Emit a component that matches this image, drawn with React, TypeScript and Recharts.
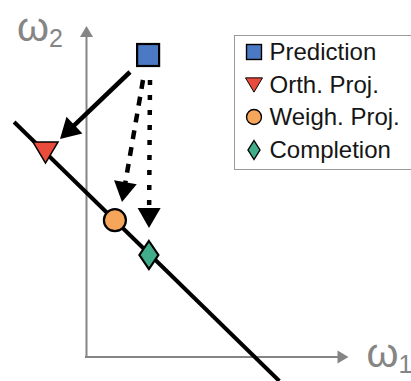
import React from "react";
import {
  ScatterChart,
  Scatter,
  XAxis,
  YAxis,
  ReferenceLine,
  ReferenceDot,
  Legend,
} from "recharts";

// weight space, origin at the axis corner
const X_DOMAIN = [-2.1625, 8.1125];
const Y_DOMAIN = [-0.6, 8.925];
const PX = 40; // pixels per unit on both axes

const seriesNames = ["Prediction", "Orth. Proj.", "Weigh. Proj.", "Completion"];
const seriesX = [1.54, -1.025, 0.71, 1.56];
const seriesY = [7.55, 5.11, 3.42, 2.55];
const seriesColors = ["#4b79c3", "#e94b3c", "#f5a65b", "#41ad8b"];

const constraintX = [-1.81, 4.82];
const constraintY = [5.875, -0.6];

const arrowStartX = [1.0875, 1.4125, 1.5875];
const arrowStartY = [7.125, 6.925, 6.925];
const arrowEndX = [-0.6625, 0.8875, 1.5625];
const arrowEndY = [5.45, 3.875, 3.225];
const arrowDash = ["", "9 8", "5 10"];

const axisEndX = 6.55;
const axisEndY = 8.275;

const FONT = "'Liberation Sans', Arial, sans-serif";
const AXIS_GRAY = "#858585";

function headPoints(cx: number, cy: number, angle: number, len: number, w: number) {
  const c = Math.cos(angle);
  const s = Math.sin(angle);
  const pts = [
    [0, 0],
    [-len, -w / 2],
    [-len, w / 2],
  ];
  return pts.map(([px, py]) => `${cx + px * c - py * s},${cy + px * s + py * c}`).join(" ");
}

function markerShape(name: string, color: string, cx: number, cy: number, small: boolean) {
  const k = small ? 0.68 : 1;
  const sw = small ? 1.4 : 2.2;
  if (name === "Prediction") {
    const h = 11 * k;
    return <rect x={cx - h} y={cy - h} width={h * 2} height={h * 2} fill={color} stroke="#000" strokeWidth={sw} />;
  }
  if (name === "Orth. Proj.") {
    const hw = 12.5 * k;
    const hh = 10.5 * k;
    return (
      <polygon
        points={`${cx - hw},${cy - hh} ${cx + hw},${cy - hh} ${cx},${cy + hh}`}
        fill={color}
        stroke="#000"
        strokeWidth={sw * 0.7}
        strokeLinejoin="miter"
      />
    );
  }
  if (name === "Weigh. Proj.") {
    return <circle cx={cx} cy={cy} r={11 * k} fill={color} stroke="#000" strokeWidth={sw} />;
  }
  const hw = small ? 6 : 9.5;
  const hh = small ? 9.5 : 14;
  return (
    <polygon
      points={`${cx},${cy - hh} ${cx + hw},${cy} ${cx},${cy + hh} ${cx - hw},${cy}`}
      fill={color}
      stroke="#000"
      strokeWidth={sw}
    />
  );
}

function LegendBox({ payload }: any) {
  const items = [...(payload || [])].sort(
    (a: any, b: any) => seriesNames.indexOf(a.value) - seriesNames.indexOf(b.value)
  );
  return (
    <div
      style={{
        boxSizing: "border-box",
        width: 200,
        height: 135,
        border: "1.5px solid #9a9a9a",
        background: "#fff",
        padding: "0 0 0 9.5px",
        fontFamily: FONT,
        fontSize: 24,
        color: "#161616",
      }}
    >
      {items.map((entry: any) => (
        <div key={entry.value} style={{ display: "flex", alignItems: "center", height: 32.5 }}>
          <svg width={18} height={22} style={{ flex: "none" }}>
            {markerShape(entry.value, entry.color, 9, 11, true)}
          </svg>
          <span style={{ marginLeft: 7, whiteSpace: "nowrap" }}>{entry.value}</span>
        </div>
      ))}
    </div>
  );
}

function axisLabel(sub: string) {
  return (props: any) => (
    <text x={props.cx} y={props.cy} fill={AXIS_GRAY} fontFamily={FONT} fontSize={41}>
      ω
      <tspan fontSize={25} dy={6}>
        {sub}
      </tspan>
    </text>
  );
}

export default function App() {
  const headLen = 20;
  const headW = 23;

  return (
    <div
      style={{
        position: "absolute",
        left: 0,
        top: 0,
        width: 411,
        height: 381,
        overflow: "hidden",
        background: "#fff",
      }}
    >
      <ScatterChart width={411} height={381} margin={{ top: 0, right: 0, bottom: 0, left: 0 }}>
        <XAxis type="number" dataKey="x" domain={X_DOMAIN} hide allowDataOverflow />
        <YAxis type="number" dataKey="y" domain={Y_DOMAIN} hide allowDataOverflow />

        {/* axes with arrow heads */}
        <ReferenceLine
          segment={[{ x: -0.04, y: 0 }, { x: axisEndX - 8 / PX, y: 0 }]}
          stroke={AXIS_GRAY}
          strokeWidth={2}
          ifOverflow="visible"
        />
        <ReferenceLine
          segment={[{ x: 0, y: 0 }, { x: 0, y: axisEndY - 8 / PX }]}
          stroke={AXIS_GRAY}
          strokeWidth={2}
          ifOverflow="visible"
        />
        <ReferenceDot
          x={axisEndX}
          y={0}
          ifOverflow="visible"
          shape={(p: any) => <polygon points={headPoints(p.cx, p.cy, 0, 11, 13)} fill={AXIS_GRAY} />}
        />
        <ReferenceDot
          x={0}
          y={axisEndY}
          ifOverflow="visible"
          shape={(p: any) => <polygon points={headPoints(p.cx, p.cy, -Math.PI / 2, 11, 13)} fill={AXIS_GRAY} />}
        />
        <ReferenceDot x={-1.74} y={7.9} ifOverflow="visible" shape={axisLabel("2")} />
        <ReferenceDot x={7.0} y={-0.25} ifOverflow="visible" shape={axisLabel("1")} />

        {/* constraint line */}
        <ReferenceLine
          segment={[
            { x: constraintX[0], y: constraintY[0] },
            { x: constraintX[1], y: constraintY[1] },
          ]}
          stroke="#000"
          strokeWidth={4}
          ifOverflow="visible"
        />

        {/* projection arrows */}
        {arrowStartX.map((sx, i) => {
          const dx = arrowEndX[i] - sx;
          const dy = arrowEndY[i] - arrowStartY[i];
          const len = Math.hypot(dx, dy);
          const back = (headLen * 0.8) / PX;
          const ex = arrowEndX[i] - (dx / len) * back;
          const ey = arrowEndY[i] - (dy / len) * back;
          const angle = Math.atan2(-dy, dx);
          return (
            <React.Fragment key={i}>
              <ReferenceLine
                segment={[
                  { x: sx, y: arrowStartY[i] },
                  { x: ex, y: ey },
                ]}
                stroke="#000"
                strokeWidth={4.5}
                strokeDasharray={arrowDash[i] || undefined}
                ifOverflow="visible"
              />
              <ReferenceDot
                x={arrowEndX[i]}
                y={arrowEndY[i]}
                ifOverflow="visible"
                shape={(p: any) => (
                  <polygon points={headPoints(p.cx, p.cy, angle, headLen, headW)} fill="#000" />
                )}
              />
            </React.Fragment>
          );
        })}

        {seriesNames.map((name, i) => (
          <Scatter
            key={name}
            name={name}
            data={[{ x: seriesX[i], y: seriesY[i] }]}
            fill={seriesColors[i]}
            isAnimationActive={false}
            shape={(p: any) => markerShape(name, seriesColors[i], p.cx, p.cy, false)}
          />
        ))}

        <Legend
          layout="vertical"
          align="center"
          verticalAlign="middle"
          content={<LegendBox />}
          wrapperStyle={{ top: 35, left: 234, width: 200 }}
        />
      </ScatterChart>
    </div>
  );
}
